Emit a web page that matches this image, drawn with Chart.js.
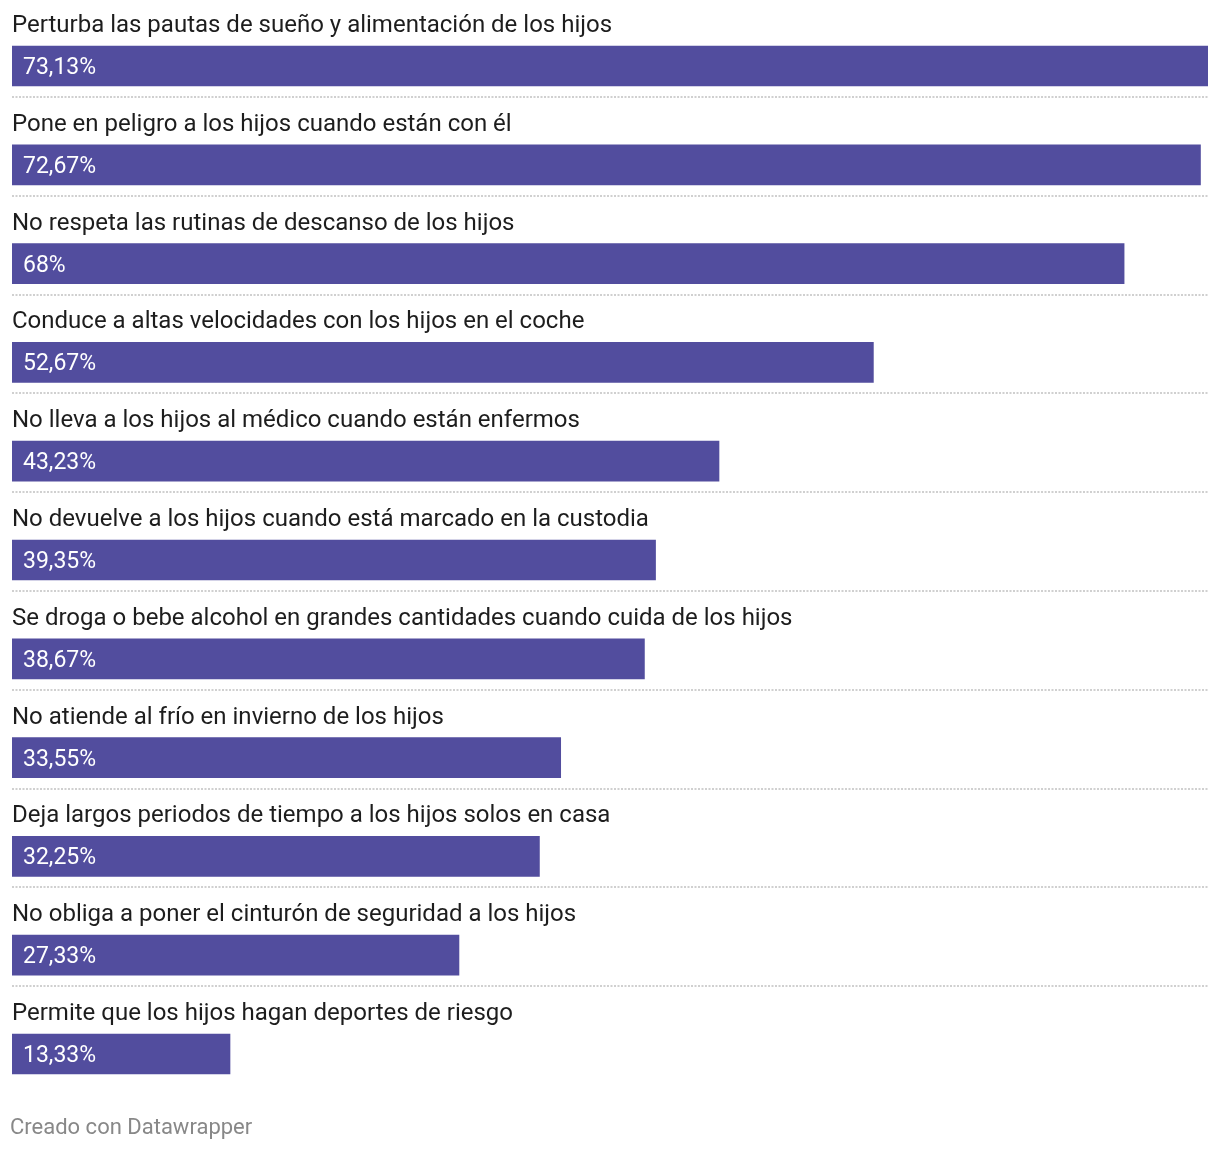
<!DOCTYPE html>
<html>
<head>
<meta charset="utf-8">
<script src="https://cdn.jsdelivr.net/npm/chart.js@4"></script>
<style>
  html, body { margin: 0; padding: 0; background: #ffffff; }
  #wrap { position: relative; width: 1220px; height: 1152px; }
  #c { position: absolute; left: 0; top: 0; }
  #footer { position: absolute; left: 10px; top: 1114px; font-family: Roboto, "Noto Sans", sans-serif; font-size: 22px; color: #888888; white-space: nowrap; }
</style>
</head>
<body>
<div id="wrap">
  <canvas id="c" width="1220" height="1152"></canvas>
  <div id="footer">Creado con Datawrapper</div>
</div>
<script>
const categories = [
  "Perturba las pautas de sueño y alimentación de los hijos",
  "Pone en peligro a los hijos cuando están con él",
  "No respeta las rutinas de descanso de los hijos",
  "Conduce a altas velocidades con los hijos en el coche",
  "No lleva a los hijos al médico cuando están enfermos",
  "No devuelve a los hijos cuando está marcado en la custodia",
  "Se droga o bebe alcohol en grandes cantidades cuando cuida de los hijos",
  "No atiende al frío en invierno de los hijos",
  "Deja largos periodos de tiempo a los hijos solos en casa",
  "No obliga a poner el cinturón de seguridad a los hijos",
  "Permite que los hijos hagan deportes de riesgo"
];
const values = [73.13, 72.67, 68, 52.67, 43.23, 39.35, 38.67, 33.55, 32.25, 27.33, 13.33];

const FONT = 'Roboto, "Noto Sans", sans-serif';

const labelPlugin = {
  id: 'rowLabels',
  afterDatasetsDraw(chart) {
    const ctx = chart.ctx;
    const meta = chart.getDatasetMeta(0);
    const area = chart.chartArea;
    ctx.save();
    meta.data.forEach((bar, i) => {
      const top = bar.y - bar.height / 2;
      const bottom = bar.y + bar.height / 2;
      ctx.textAlign = 'left';
      ctx.textBaseline = 'alphabetic';
      // category label above bar
      ctx.font = '24px ' + FONT;
      ctx.fillStyle = '#1d1d1d';
      ctx.fillText(categories[i], area.left, top - 14);
      // value label inside bar
      ctx.font = '23px ' + FONT;
      ctx.fillStyle = '#ffffff';
      ctx.fillText(String(values[i]).replace('.', ',') + '%', area.left + 11, bar.y + 8);
      // dotted separator
      if (i < meta.data.length - 1) {
        const ly = Math.round(bottom + 11);
        ctx.strokeStyle = '#d0d0d0';
        ctx.lineWidth = 2;
        ctx.setLineDash([2, 1.5]);
        ctx.beginPath();
        ctx.moveTo(area.left, ly);
        ctx.lineTo(area.right, ly);
        ctx.stroke();
      }
    });
    ctx.restore();
  }
};

new Chart(document.getElementById('c'), {
  type: 'bar',
  data: {
    labels: categories,
    datasets: [{
      data: values,
      backgroundColor: '#524d9e',
      borderWidth: 0,
      barThickness: 40
    }]
  },
  options: {
    indexAxis: 'y',
    responsive: false,
    animation: false,
    layout: { padding: { left: 12, right: 12, top: 16.6, bottom: 48.6 } },
    scales: {
      x: { display: false, min: 0, max: 73.13 },
      y: { display: false }
    },
    plugins: {
      legend: { display: false },
      tooltip: { enabled: false }
    }
  },
  plugins: [labelPlugin]
});
</script>
</body>
</html>
